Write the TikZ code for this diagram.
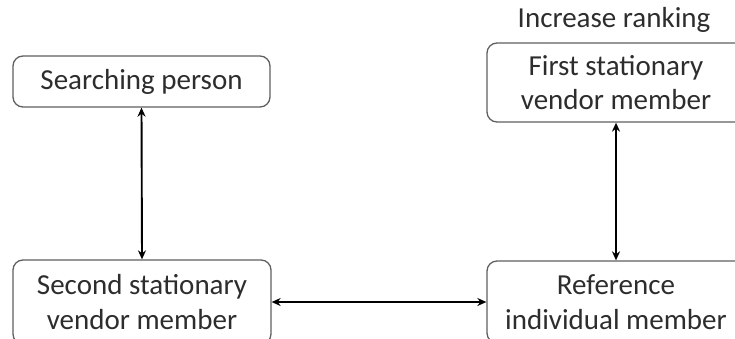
\documentclass[tikz,border=0pt]{standalone}
\usepackage{fontspec}
\setmainfont{Carlito}
\usetikzlibrary{arrows.meta}
\definecolor{boxline}{RGB}{95,95,95}
\definecolor{txt}{RGB}{45,45,45}
\tikzset{
  box/.style={draw=boxline, line width=1.3pt, rounded corners=10pt, inner sep=0pt,
    align=center, text=txt, font=\fontsize{29}{34.5}\selectfont},
  lbl/.style={text=txt, font=\fontsize{29}{34.5}\selectfont, inner sep=0pt},
  link/.style={line width=1.9pt, {Stealth[length=9pt,width=8pt]}-{Stealth[length=9pt,width=8pt]}}
}
\begin{document}
\begin{tikzpicture}[x=1pt,y=1pt]
\useasboundingbox (0,0) rectangle (735,338);
\clip (0,0) rectangle (735,338);
\node[box, minimum width=257pt, minimum height=51pt] (sp) at (141.5,256.5) {\raisebox{-2pt}{Searching person}};
\node[box, minimum width=258pt, minimum height=84pt] (ssv) at (142,36) {Second stationary\\vendor member};
\node[box, minimum width=258pt, minimum height=79pt] (fsv) at (616,255.5) {First stationary\\vendor member};
\node[box, minimum width=258pt, minimum height=82pt] (ref) at (616,36) {Reference\\individual member};
\node[lbl, anchor=base] (inc) at (614,310) {Increase ranking};
\draw[link] (sp.south) -- (ssv.north);
\draw[link] (fsv.south) -- (ref.north);
\draw[link] (ssv.east) -- (ref.west);
\end{tikzpicture}
\end{document}
